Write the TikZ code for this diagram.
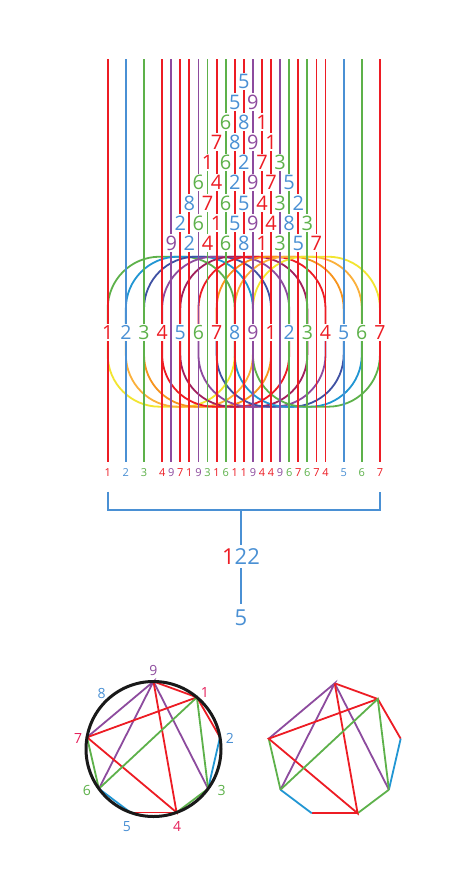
\documentclass[tikz,border=0pt]{standalone}
\usepackage{fontspec}
\setmainfont{Open Sans}
\usetikzlibrary{calc}

\definecolor{cred}{HTML}{ED1C24}
\definecolor{cblue}{HTML}{4A90D4}
\definecolor{cgreen}{HTML}{5DB14A}
\definecolor{cpurple}{HTML}{8D4B9E}
\definecolor{cpink}{HTML}{E6215C}
\definecolor{rblue}{HTML}{2196D3}
\definecolor{rindigo}{HTML}{3F51A3}
\definecolor{rcrimson}{HTML}{A0205C}
\definecolor{rorange}{HTML}{F7941D}
\definecolor{ramber}{HTML}{FBB03B}
\definecolor{ryellow}{HTML}{F2E530}
\colorlet{d1}{cred}\colorlet{d2}{cblue}\colorlet{d3}{cgreen}
\colorlet{d4}{cred}\colorlet{d5}{cblue}\colorlet{d6}{cgreen}
\colorlet{d7}{cred}\colorlet{d8}{cblue}\colorlet{d9}{cpurple}

\newcommand{\pos}[1]{107.7+18.15*(#1)}
\newcommand{\strand}[3]{
  \coordinate (#1top) at ({\pos{#2}}, 59);
  \coordinate (#1bot) at ({\pos{#2}}, 462);
  \draw[strandline, d#3] (#1top) -- (#1bot);
  \node[lbl, text=d#3] (#1lbl) at ({\pos{#2}}, 473) {#3};}
\newcommand{\ring}[3]{
  \draw[ringline, #2] ({\pos{#1}}, 331.7) -- ({\pos{#1}}, 256.7) -- ({\pos{#1+7}}, 256.7) -- ({\pos{#1+7}}, 331.7);
  \draw[ringline, #3] ({\pos{#1}}, 331.7) -- ({\pos{#1}}, 406.7) -- ({\pos{#1+7}}, 406.7) -- ({\pos{#1+7}}, 331.7);}
\newcommand{\trirow}[4]{
  \foreach \d [count=\i] in {#4}
    \node[tri, text=d\d] (t#1-\i) at ({\pos{#3+\i-1}}, #2) {\d};}
\newcommand{\ennchords}[1]{
  \draw[chord, cred] (#19) -- (#11) -- (#12);
  \draw[chord, rblue] (#12) -- (#13);
  \draw[chord, cgreen] (#13) -- (#14);
  \draw[chord, cred] (#14) -- (#15);
  \draw[chord, rblue] (#15) -- (#16);
  \draw[chord, cgreen] (#16) -- (#17);
  \draw[chord, cpurple] (#17) -- (#19) -- (#16);
  \draw[chord, cpurple] (#19) -- (#13);
  \draw[chord, cred] (#19) -- (#14) -- (#17) -- (#11);
  \draw[chord, cgreen] (#16) -- (#11) -- (#13);}

\begin{document}
\begin{tikzpicture}[x=1pt, y=-1pt,
  strandline/.style={line width=1.8pt},
  ringline/.style={line width=1.8pt, rounded corners=52pt},
  tri/.style={fill=white, inner sep=1.5pt, font=\fontsize{20}{20}\selectfont},
  mid/.style={fill=white, inner sep=1.5pt, font=\fontsize{19.5}{19.5}\selectfont},
  lbl/.style={inner sep=1pt, font=\fontsize{11}{11}\selectfont},
  big/.style={text=cblue, font=\fontsize{22}{22}\selectfont},
  brace/.style={cblue, line width=1.8pt},
  chord/.style={line width=1.8pt},
  pt/.style={inner sep=1pt, font=\fontsize{14}{14}\selectfont}]
\useasboundingbox[fill=white] (0,0) rectangle (471,870);

% rings
\ring{0}{cgreen}{ryellow}
\ring{1}{rblue}{ramber}
\ring{2}{rindigo}{rorange}
\ring{3}{cpurple}{cred}
\ring{4}{rcrimson}{rcrimson}
\ring{5}{cred}{cpurple}
\ring{6}{rorange}{rindigo}
\ring{7}{ramber}{rblue}
\ring{8}{ryellow}{cgreen}

% strands
\strand{s1}{0}{1}
\strand{s2}{1}{2}
\strand{s3}{2}{3}
\strand{s4}{3}{4}
\strand{s5}{3.5}{9}
\strand{s6}{4}{7}
\strand{s7}{4.5}{1}
\strand{s8}{5}{9}
\strand{s9}{5.5}{3}
\strand{s10}{6}{1}
\strand{s11}{6.5}{6}
\strand{s12}{7}{1}
\strand{s13}{7.5}{1}
\strand{s14}{8}{9}
\strand{s15}{8.5}{4}
\strand{s16}{9}{4}
\strand{s17}{9.5}{9}
\strand{s18}{10}{6}
\strand{s19}{10.5}{7}
\strand{s20}{11}{6}
\strand{s21}{11.5}{7}
\strand{s22}{12}{4}
\strand{s23}{13}{5}
\strand{s24}{14}{6}
\strand{s25}{15}{7}

% triangle
\trirow{1}{81.7}{7.5}{5}
\trirow{2}{102}{7}{5,9}
\trirow{3}{122}{6.5}{6,8,1}
\trirow{4}{142}{6}{7,8,9,1}
\trirow{5}{162.5}{5.5}{1,6,2,7,3}
\trirow{6}{182.5}{5}{6,4,2,9,7,5}
\trirow{7}{203}{4.5}{8,7,6,5,4,3,2}
\trirow{8}{223}{4}{2,6,1,5,9,4,8,3}
\trirow{9}{243}{3.5}{9,2,4,6,8,1,3,5,7}

% middle row
\foreach \d [count=\i] in {1,2,3,4,5,6,7,8,9,1,2,3,4,5,6,7}
  \node[mid, text=d\d] (m\i) at ({\pos{\i-1}}, 332.5) {\d};

% sum
\coordinate (bl) at ({\pos{0}}, 491.5);
\coordinate (blc) at ({\pos{0}}, 510);
\coordinate (br) at ({\pos{15}}, 491.5);
\coordinate (brc) at ({\pos{15}}, 510);
\coordinate (bmid) at (241, 510);
\node[big] (sum) at (241, 556.7) {{\color{cred}1}22};
\node[big] (root) at (241, 618) {5};
\draw[brace] (bl) -- (blc) -- (brc) -- (br);
\draw[brace] (bmid) -- (sum);
\draw[brace, shorten >=3pt] (sum) -- (root);

% circle
\begin{scope}[shift={(153.5,749)}]
\coordinate (lc) at (0,0);
\coordinate (a9) at (90:67.5pt);
\coordinate (a1) at (50:67.5pt);
\coordinate (a2) at (10:67.5pt);
\coordinate (a3) at (-36:67.5pt);
\coordinate (a4) at (-70:67.5pt);
\coordinate (a5) at (-110:67.5pt);
\coordinate (a6) at (-144:67.5pt);
\coordinate (a7) at (170:67.5pt);
\node[pt, text=cpurple] (n9) at (90:79pt) {9};
\node[pt, text=cpink] (n1) at (47.5:76pt) {1};
\node[pt, text=cblue] (n2) at (8:77pt) {2};
\node[pt, text=cgreen] (n3) at (-31.6:80pt) {3};
\node[pt, text=cpink] (n4) at (-73:81pt) {4};
\node[pt, text=cblue] (n5) at (-109:82pt) {5};
\node[pt, text=cgreen] (n6) at (-148:78.7pt) {6};
\node[pt, text=cpink] (n7) at (172:76pt) {7};
\node[pt, text=cblue] (n8) at (133:76pt) {8};
\end{scope}
\ennchords{a}
\draw[line width=3pt, black!90] (lc) circle[radius=67.5pt];

% polygon
\begin{scope}[shift={(334.7,750.3)}]
\coordinate (b9) at (90:67pt);
\coordinate (b1) at (50:67pt);
\coordinate (b2) at (10:67pt);
\coordinate (b3) at (-36:67pt);
\coordinate (b4) at (-70:67pt);
\coordinate (b5) at (-110:67pt);
\coordinate (b6) at (-144:67pt);
\coordinate (b7) at (170:67pt);
\end{scope}
\ennchords{b}
\end{tikzpicture}
\end{document}
